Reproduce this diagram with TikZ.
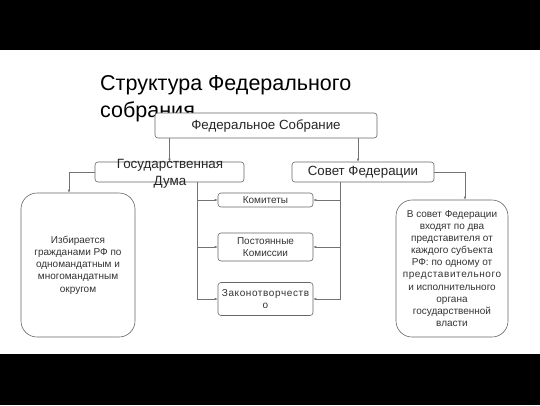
\documentclass[tikz,border=0pt]{standalone}
\usepackage{fontspec}
\setmainfont{Liberation Sans}
\usetikzlibrary{arrows.meta}
\begin{document}
\begin{tikzpicture}[x=1pt,y=-1pt,
  box/.style={draw=black!60, line width=0.6pt, rounded corners=3pt, inner sep=0pt, fill=white},
  bigbox/.style={draw=black!60, line width=0.6pt, rounded corners=16pt, inner sep=0pt, fill=white},
  lbl/.style={inner sep=0pt, align=center, text=black!85},
  arr/.style={draw=black!55, line width=0.5pt, -{Latex[length=3pt,width=2.5pt]}}]
\useasboundingbox (0,0) rectangle (540,405);
\fill[black] (0,0) rectangle (540,50);
\fill[black] (0,354) rectangle (540,405);
% title
\node[anchor=north west, inner sep=0pt, align=left, font=\fontsize{21.5}{27}\selectfont] (title) at (100,75) {Структура Федерального\\собрания};
% nodes
\node[box, minimum width=222, minimum height=25, font=\fontsize{13.3}{15}\selectfont, text=black!85] (fa) at (266,125.5) {Федеральное Собрание};
\node[box, minimum width=149, minimum height=20] (gd) at (169.5,172) {};
\node[lbl, font=\fontsize{13.4}{16.5}\selectfont] (gdt) at (170,174) {Государственная\\Дума};
\node[box, minimum width=142, minimum height=20, font=\fontsize{13.3}{15}\selectfont, text=black!85] (sf) at (363,172) {Совет Федерации};
\node[bigbox, minimum width=114, minimum height=144, align=center, font=\fontsize{10}{12.2}\selectfont, text=black!80] (left) at (78,265) {Избирается\\гражданами РФ по\\одномандатным и\\многомандатным\\округом};
\node[bigbox, minimum width=112, minimum height=137, align=center, font=\fontsize{10}{12.1}\selectfont, text=black!80] (right) at (452,268.5) {В совет Федерации\\входят по два\\представителя от\\каждого субъекта\\РФ: по одному от\\{\addfontfeature{LetterSpace=6}представительного}\\и исполнительного\\органа\\государственной\\власти};
\node[box, minimum width=95, minimum height=14, font=\fontsize{10}{12}\selectfont, text=black!80] (kom) at (265.5,200) {Комитеты};
\node[box, minimum width=95, minimum height=28, align=center, font=\fontsize{10}{12}\selectfont, text=black!80] (pos) at (265.5,247) {Постоянные\\Комиссии};
\node[box, minimum width=95, minimum height=33, align=center, font=\fontsize{10}{12.5}\selectfont, text=black!80] (zak) at (265.5,299) {{\addfontfeature{LetterSpace=6}Законотворчеств}\\о};
% connectors
\draw[arr] (fa.south -| gd) -- (gd.north);
\draw[arr] ([xshift=-5]fa.south -| sf) -- ([xshift=-5]sf.north);
\coordinate (lc) at ([xshift=-9]left.north);
\draw[arr] (gd.west) -| (lc);
\coordinate (rc) at ([xshift=13]right.north);
\draw[arr] (sf.east) -| (rc);
\coordinate (gdb) at ([xshift=27.5]gd.south);
\coordinate (sfb) at ([xshift=-23]sf.south);
\draw[arr] (gdb) |- (kom.west);
\draw[arr] (gdb) |- (pos.west);
\draw[arr] (gdb) |- (zak.west);
\draw[arr] (sfb) |- (kom.east);
\draw[arr] (sfb) |- (pos.east);
\draw[arr] (sfb) |- (zak.east);
\end{tikzpicture}
\end{document}
